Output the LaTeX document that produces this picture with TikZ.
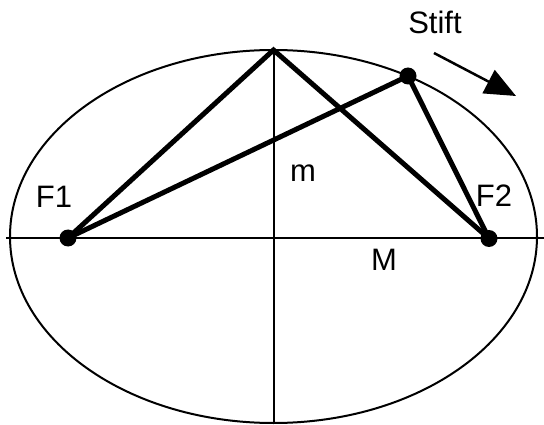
\documentclass[tikz,border=0pt]{standalone}
\usepackage{fontspec}
\setmainfont{Liberation Sans}
\usetikzlibrary{arrows.meta}

\begin{document}
\begin{tikzpicture}[x=1pt, y=-1pt,
    dot/.style={circle, fill, inner sep=0pt, minimum size=17pt},
    lbl/.style={font=\fontsize{31}{37}\selectfont, inner sep=0pt},
    thin line/.style={line width=2pt},
    thick line/.style={line width=5pt}]

    \useasboundingbox (0,0) rectangle (544,425);

    % ELLIPSE
    \draw[thin line] (273.5,236.5) ellipse [x radius=263.5, y radius=186.5];

    % AXES
    \coordinate (west) at (6,237.5);
    \coordinate (east) at (544,237.5);
    \coordinate (top) at (273.5,50);
    \coordinate (bottom) at (273.5,423);
    \draw[thin line] (west) -- (east);
    \draw[thin line] (top) -- (bottom);

    % FOCI AND PEN
    \node[dot] (f1) at (68,238) {};
    \node[dot] (f2) at (489,238.5) {};
    \node[dot] (pen) at (408,76) {};

    % STRINGS
    \draw[thick line, line join=miter] (f1.center) -- (top) -- (f2.center);
    \draw[thick line, line join=miter] (f1.center) -- (pen.center) -- (f2.center);

    % LABELS
    \node[lbl] (lf1) at (54,197) {F1};
    \node[lbl] (lf2) at (494,196) {F2};
    \node[lbl] (lm) at (303,173) {m};
    \node[lbl] (lM) at (384,260) {M};
    \node[lbl] (lstift) at (435,22) {Stift};

    % DIRECTION OF MOTION
    \coordinate (from) at (434,53);
    \coordinate (to) at (516,96);
    \draw[line width=2.5pt, -{Triangle[length=31pt, width=26pt]}] (from) -- (to);

\end{tikzpicture}
\end{document}
